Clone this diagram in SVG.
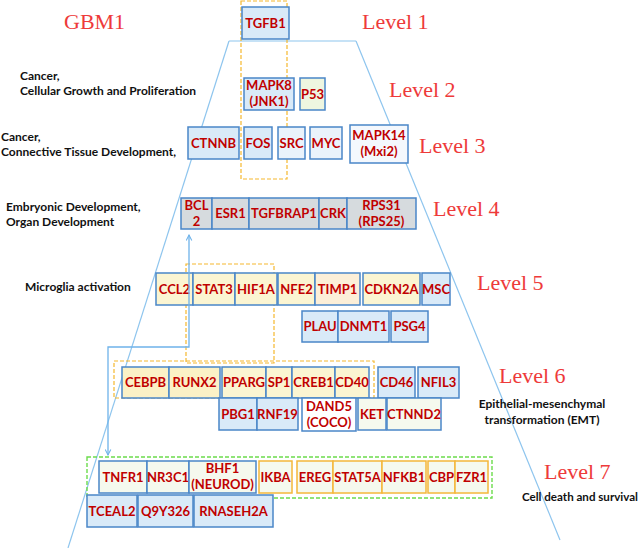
<svg xmlns="http://www.w3.org/2000/svg" width="642" height="548" viewBox="0 0 642 548">
<style>
.bx{stroke:#4a86c8;stroke-width:1.5}
.ob{stroke:#f4b73a;stroke-width:1.5}
.blue{fill:#d9eaf8}
.lb{fill:#eaf3fb}
.wb{fill:#f4f8fd}
.gray{fill:#d6dbde}
.yel{fill:#fbf5d2}
.yel2{fill:#fbf1c6}
.pch{fill:#fcefd8}
.grn{fill:#eef6e0}
.gw{fill:#f5f9ee}
.wh{fill:#ffffff}
.g{font-family:Lato,"Liberation Sans",sans-serif;font-weight:bold;font-size:13px;fill:#c00000;text-anchor:middle}
.lv{font-family:"Liberation Serif",serif;font-size:22px;fill:#ee3a3a}
.lab{font-family:Lato,"Liberation Sans",sans-serif;font-weight:bold;font-size:12px;fill:#111}
.tz{stroke:#8ec5ee;stroke-width:1.2;fill:none}
.od{fill:none;stroke:#f5b82e;stroke-width:1.2;stroke-dasharray:4,2}
.gd{fill:none;stroke:#6cdc4c;stroke-width:1.4;stroke-dasharray:4,2}
</style>
<defs>
<marker id="ah" viewBox="0 0 10 10" refX="9" refY="5" markerWidth="7" markerHeight="7" orient="auto-start-reverse" markerUnits="userSpaceOnUse">
<path d="M1,1 L9,5 L1,9" fill="none" stroke="#6fb3ea" stroke-width="1.5"/>
</marker>
</defs>
<rect width="642" height="548" fill="#ffffff"/>

<g id="frame">
<line class="tz" x1="229" y1="41" x2="356" y2="41"/>
<line class="tz" x1="229" y1="41" x2="68" y2="548"/>
<line class="tz" x1="356" y1="41" x2="560" y2="540"/>
</g>

<g id="titles">
<text class="lv" x="64" y="29" font-size="20">GBM1</text>
<text class="lv" x="362" y="29">Level 1</text>
<text class="lv" x="389" y="97">Level 2</text>
<text class="lv" x="419" y="153">Level 3</text>
<text class="lv" x="433" y="216">Level 4</text>
<text class="lv" x="477" y="290">Level 5</text>
<text class="lv" x="499" y="383">Level 6</text>
<text class="lv" x="544" y="479">Level 7</text>
<text class="lab" x="20" y="80">Cancer,</text>
<text class="lab" x="20" y="95">Cellular Growth and Proliferation</text>
<text class="lab" x="1" y="141">Cancer,</text>
<text class="lab" x="1" y="156">Connective Tissue Development,</text>
<text class="lab" x="6" y="211">Embryonic Development,</text>
<text class="lab" x="6" y="226">Organ Development</text>
<text class="lab" x="25" y="291">Microglia activation</text>
<text class="lab" x="542" y="408" text-anchor="middle">Epithelial-mesenchymal</text>
<text class="lab" x="542" y="424" text-anchor="middle">transformation (EMT)</text>
<text class="lab" x="522" y="501" textLength="116" lengthAdjust="spacingAndGlyphs">Cell death and survival</text>
</g>

<g id="groups">
<rect class="od" x="241" y="1" width="46" height="178"/>
<rect class="od" x="186" y="264" width="88" height="99"/>
<rect class="od" x="114" y="361" width="260" height="37"/>
<rect class="gd" x="87" y="457" width="405" height="41"/>
</g>

<g id="n-TGFB1"><rect class="bx blue" x="242" y="7" width="47" height="32"/><text class="g" x="265.5" y="27.5">TGFB1</text></g>
<g id="n-MAPK8"><rect class="bx blue" x="244" y="78" width="50" height="32"/><text class="g" x="269" y="90">MAPK8</text><text class="g" x="269" y="106">(JNK1)</text></g>
<g id="n-P53"><rect class="bx grn" x="300" y="78" width="25" height="32"/><text class="g" x="312.5" y="98.5">P53</text></g>

<g id="n-CTNNB"><rect class="bx blue" x="188" y="127" width="51" height="32"/><text class="g" x="213.5" y="147.5">CTNNB</text></g>
<g id="n-FOS"><rect class="bx blue" x="244" y="127" width="28" height="32"/><text class="g" x="258" y="147.5">FOS</text></g>
<g id="n-SRC"><rect class="bx lb" x="278" y="127" width="27" height="32"/><text class="g" x="291.5" y="147.5">SRC</text></g>
<g id="n-MYC"><rect class="bx lb" x="310" y="127" width="32" height="32"/><text class="g" x="326" y="147.5">MYC</text></g>
<g id="n-MAPK14"><rect class="bx wb" x="350" y="125" width="58" height="38"/><text class="g" x="379" y="140">MAPK14</text><text class="g" x="379" y="156">(Mxi2)</text></g>

<g id="n-BCL2"><rect class="bx gray" x="181" y="198" width="31" height="31"/><text class="g" x="196.5" y="210">BCL</text><text class="g" x="196.5" y="226">2</text></g>
<g id="n-ESR1"><rect class="bx gray" x="212" y="198" width="37" height="31"/><text class="g" x="230.5" y="218">ESR1</text></g>
<g id="n-TGFBRAP1"><rect class="bx gray" x="249" y="198" width="70" height="31"/><text class="g" x="284" y="218">TGFBRAP1</text></g>
<g id="n-CRK"><rect class="bx gray" x="319" y="198" width="28" height="31"/><text class="g" x="333" y="218">CRK</text></g>
<g id="n-RPS31"><rect class="bx gray" x="347" y="198" width="69" height="31"/><text class="g" x="381.5" y="210">RPS31</text><text class="g" x="381.5" y="226">(RPS25)</text></g>

<g id="n-CCL2"><rect class="bx yel" x="156" y="273" width="37" height="32"/><text class="g" x="174.5" y="293.5">CCL2</text></g>
<g id="n-STAT3"><rect class="bx yel" x="193" y="273" width="42" height="32"/><text class="g" x="214" y="293.5">STAT3</text></g>
<g id="n-HIF1A"><rect class="bx yel" x="235" y="273" width="42" height="32"/><text class="g" x="256" y="293.5">HIF1A</text></g>
<g id="n-NFE2"><rect class="bx yel" x="278" y="273" width="37" height="32"/><text class="g" x="296.5" y="293.5">NFE2</text></g>
<g id="n-TIMP1"><rect class="bx pch" x="315" y="273" width="45" height="32"/><text class="g" x="337.5" y="293.5">TIMP1</text></g>
<g id="n-CDKN2A"><rect class="bx yel" x="363" y="273" width="57" height="32"/><text class="g" x="391.5" y="293.5">CDKN2A</text></g>
<g id="n-MSC"><rect class="bx blue" x="422" y="273" width="28" height="32"/><text class="g" x="436" y="293.5">MSC</text></g>
<g id="n-PLAU"><rect class="bx blue" x="302" y="311" width="36" height="31"/><text class="g" x="320" y="331">PLAU</text></g>
<g id="n-DNMT1"><rect class="bx blue" x="338" y="311" width="51" height="31"/><text class="g" x="363.5" y="331">DNMT1</text></g>
<g id="n-PSG4"><rect class="bx blue" x="391" y="311" width="37" height="31"/><text class="g" x="409.5" y="331">PSG4</text></g>

<g id="n-CEBPB"><rect class="bx yel2" x="122" y="367" width="47" height="31"/><text class="g" x="145.5" y="387">CEBPB</text></g>
<g id="n-RUNX2"><rect class="bx yel2" x="169" y="367" width="51" height="31"/><text class="g" x="194.5" y="387">RUNX2</text></g>
<g id="n-PPARG"><rect class="bx yel" x="222" y="367" width="44" height="31"/><text class="g" x="244" y="387">PPARG</text></g>
<g id="n-SP1"><rect class="bx yel" x="266" y="367" width="26" height="31"/><text class="g" x="279" y="387">SP1</text></g>
<g id="n-CREB1"><rect class="bx yel" x="292" y="367" width="43" height="31"/><text class="g" x="313.5" y="387">CREB1</text></g>
<g id="n-CD40"><rect class="bx yel" x="335" y="367" width="34" height="31"/><text class="g" x="352" y="387">CD40</text></g>
<g id="n-CD46"><rect class="bx blue" x="378" y="367" width="37" height="31"/><text class="g" x="396.5" y="387">CD46</text></g>
<g id="n-NFIL3"><rect class="bx blue" x="418" y="367" width="41" height="31"/><text class="g" x="438.5" y="387">NFIL3</text></g>
<g id="n-PBG1"><rect class="bx blue" x="219" y="398" width="38" height="32"/><text class="g" x="238" y="418.5">PBG1</text></g>
<g id="n-RNF19"><rect class="bx blue" x="257" y="398" width="41" height="32"/><text class="g" x="277.5" y="418.5">RNF19</text></g>
<g id="n-DAND5"><rect class="bx wh" x="302" y="398" width="54" height="33"/><text class="g" x="329" y="411">DAND5</text><text class="g" x="329" y="427">(COCO)</text></g>
<g id="n-KET"><rect class="bx gw" x="358" y="398" width="28" height="32"/><text class="g" x="372" y="418.5">KET</text></g>
<g id="n-CTNND2"><rect class="bx gw" x="387" y="398" width="54" height="32"/><text class="g" x="414" y="418.5">CTNND2</text></g>

<g id="n-TNFR1"><rect class="bx gw" x="99" y="461" width="48" height="32"/><text class="g" x="123" y="481.5">TNFR1</text></g>
<g id="n-NR3C1"><rect class="bx gw" x="147" y="461" width="42" height="32"/><text class="g" x="168" y="481.5">NR3C1</text></g>
<g id="n-BHF1"><rect class="bx gw" x="189" y="461" width="67" height="32"/><text class="g" x="222.5" y="473">BHF1</text><text class="g" x="222.5" y="489">(NEUROD)</text></g>
<g id="n-IKBA"><rect class="ob gw" x="259" y="461" width="33" height="32"/><text class="g" x="275.5" y="481.5">IKBA</text></g>
<g id="n-EREG"><rect class="ob gw" x="297" y="461" width="36" height="32"/><text class="g" x="315" y="481.5">EREG</text></g>
<g id="n-STAT5A"><rect class="ob gw" x="333" y="461" width="49" height="32"/><text class="g" x="357.5" y="481.5">STAT5A</text></g>
<g id="n-NFKB1"><rect class="ob gw" x="382" y="461" width="44" height="32"/><text class="g" x="404" y="481.5">NFKB1</text></g>
<g id="n-CBP"><rect class="ob gw" x="428" y="461" width="27" height="32"/><text class="g" x="441.5" y="481.5">CBP</text></g>
<g id="n-FZR1"><rect class="ob gw" x="455" y="461" width="33" height="32"/><text class="g" x="471.5" y="481.5">FZR1</text></g>
<g id="n-TCEAL2"><rect class="bx blue" x="87" y="495" width="50" height="32"/><text class="g" x="112" y="515.5">TCEAL2</text></g>
<g id="n-Q9Y326"><rect class="bx blue" x="138" y="495" width="55" height="32"/><text class="g" x="165.5" y="515.5">Q9Y326</text></g>
<g id="n-RNASEH2A"><rect class="bx blue" x="194" y="495" width="79" height="32"/><text class="g" x="233.5" y="515.5">RNASEH2A</text></g>

<g id="connectors">
<path d="M189,235 V347 H108 V455" fill="none" stroke="#6fb3ea" stroke-width="1.3" marker-start="url(#ah)" marker-end="url(#ah)"/>
</g>
</svg>
